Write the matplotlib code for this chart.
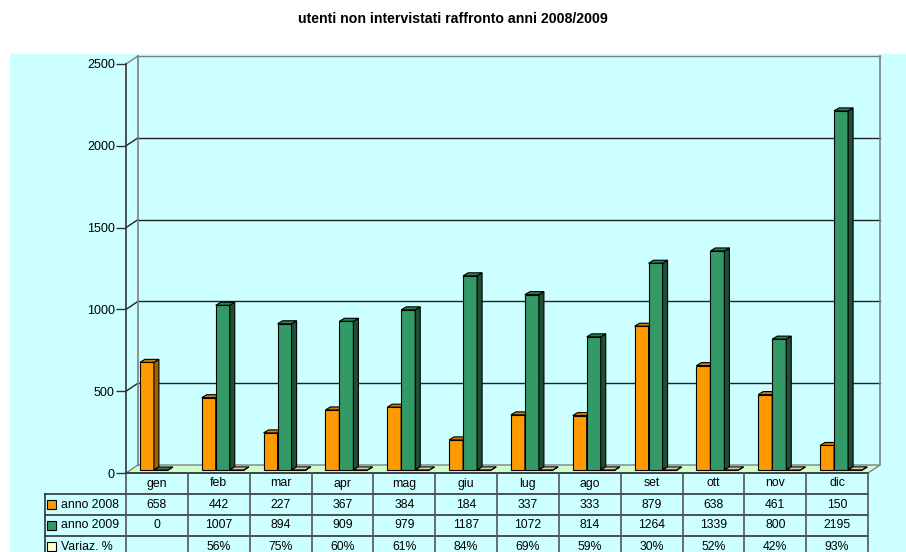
import matplotlib.pyplot as plt
from matplotlib.patches import Polygon, Rectangle
from matplotlib import transforms

plt.rcParams['font.family'] = ['Liberation Sans', 'DejaVu Sans']

# data
mesi = ['gen', 'feb', 'mar', 'apr', 'mag', 'giu', 'lug', 'ago', 'set', 'ott', 'nov', 'dic']
anno_2008 = [658, 442, 227, 367, 384, 184, 337, 333, 879, 638, 461, 150]
anno_2009 = [0, 1007, 894, 909, 979, 1187, 1072, 814, 1264, 1339, 800, 2195]
variaz = [None, 56, 75, 60, 61, 84, 69, 59, 30, 52, 42, 93]  # percent
serie_nomi = ['anno 2008', 'anno 2009', 'Variaz. %']
y_ticks = [0, 500, 1000, 1500, 2000, 2500]

W, H = 906, 552
fig = plt.figure(figsize=(W / 100, H / 100), dpi=100)
fig.patch.set_facecolor('white')
fig.add_artist(Rectangle((10 / W, 0), (W - 10) / W, (H - 54) / H,
                         transform=fig.transFigure, color='#CCFFFF', zorder=0))

# front plane of the plot in pixels
x0px, x1px, y0px, y1px = 126, 868, 473, 64
ax = fig.add_axes([x0px / W, (H - y0px) / H, (x1px - x0px) / W, (y0px - y1px) / H])
ax.set_facecolor('none')
n = len(mesi)
ax.set_xlim(0, n)
ax.set_ylim(0, 2500)
PX = n / (x1px - x0px)        # data units per pixel (x)
PY = 2500 / (y0px - y1px)     # data units per pixel (y)

# depth of the 3D box
DX, DY = 12 * PX, 8 * PY
for s in ['top', 'right', 'bottom']:
    ax.spines[s].set_visible(False)
ax.spines['left'].set_color('#333333')
ax.spines['left'].set_linewidth(1.2)
ax.set_xticks([])
ax.set_yticks(y_ticks)
ax.tick_params(axis='y', length=7, width=1, color='#333333', labelsize=9, pad=1)

# floor
ax.add_patch(Polygon([(0, 0), (n, 0), (n + DX, DY), (DX, DY)], closed=True,
                     facecolor='#CCFFCC', edgecolor='#808080', lw=1, clip_on=False, zorder=1))
# walls and gridlines
for v in y_ticks[1:]:
    c = '#808080' if v == y_ticks[-1] else '#222222'
    ax.plot([0, DX], [v, v + DY], color=c, lw=1, clip_on=False, zorder=1)
    ax.plot([DX, n + DX], [v + DY, v + DY], color=c, lw=1, clip_on=False, zorder=1)
for xx in [DX, n + DX]:
    ax.plot([xx, xx], [DY, 2500 + DY], color='#808080', lw=1.2, clip_on=False, zorder=1)

# bars
w = 14 * PX
bx, by = 4 * PX, 3 * PY
ddx, ddy = 5 * PX, 3 * PY
front = ['#FF9900', '#339966', '#FFFFCC']
side = ['#A36200', '#1F4F37', '#A3A382']
top = ['#CC7A00', '#2A7F55', '#D6CFA5']
serie = [anno_2008, anno_2009, [None if p is None else p / 100 for p in variaz]]

for j in range(n):
    for i, vals in enumerate(serie):
        v = vals[j]
        if v is None:
            continue
        x = j + 0.5 - 1.5 * w + i * w + bx
        ax.bar(x, v, width=w, bottom=by, align='edge', color=front[i],
               edgecolor='black', lw=0.8, zorder=3 + j * 3 + i)
        ax.add_patch(Polygon([(x + w, by), (x + w + ddx, by + ddy),
                              (x + w + ddx, by + v + ddy), (x + w, by + v)],
                             closed=True, facecolor=side[i], edgecolor='black',
                             lw=0.8, zorder=3 + j * 3 + i, clip_on=False))
        ax.add_patch(Polygon([(x, by + v), (x + ddx, by + v + ddy),
                              (x + w + ddx, by + v + ddy), (x + w, by + v)],
                             closed=True, facecolor=top[i], edgecolor='black',
                             lw=0.8, zorder=3 + j * 3 + i, clip_on=False))

# data table below the plot
tr = transforms.blended_transform_factory(ax.transData, ax.transAxes)
def ya(ypx):
    return (y0px - ypx) / (y0px - y1px)

rows = [473, 494, 515, 536, 557]
xl = (45 - x0px) * PX
lc = '#333333'
# horizontal lines
ax.plot([0, n], [ya(rows[0])] * 2, color=lc, lw=1.2, transform=tr, clip_on=False)
for r in rows[1:4]:
    ax.plot([xl, n], [ya(r)] * 2, color=lc, lw=1.2, transform=tr, clip_on=False)
# vertical lines
for k in range(n + 1):
    ax.plot([k, k], [ya(rows[0]), ya(rows[4])], color='#555555', lw=1.2,
            transform=tr, clip_on=False)
ax.plot([xl, xl], [ya(rows[1]), ya(rows[4])], color=lc, lw=1.2,
        transform=tr, clip_on=False)

for j, m in enumerate(mesi):
    ax.text(j + 0.5, ya((rows[0] + rows[1]) / 2), m, transform=tr,
            ha='center', va='center', fontsize=8.8)
testi = [[str(v) for v in anno_2008], [str(v) for v in anno_2009],
         ['' if p is None else f'{p}%' for p in variaz]]
for i in range(3):
    yc = ya((rows[i + 1] + rows[i + 2]) / 2)
    for j in range(n):
        ax.text(j + 0.5, yc, testi[i][j], transform=tr, ha='center',
                va='center', fontsize=8.8)
    # legend key
    ax.add_patch(Rectangle((xl + 1.5 * PX, yc - 4.5 / 409), 9 * PX, 9 / 409,
                           transform=tr, facecolor=front[i], edgecolor='black',
                           lw=0.8, clip_on=False))
    ax.text(xl + 16 * PX, yc, serie_nomi[i], transform=tr, ha='left',
            va='center', fontsize=8.8)

fig.text(453 / W, 1 - 19 / H, 'utenti non intervistati raffronto anni 2008/2009',
         ha='center', va='center', fontsize=10.2, fontweight='bold')

fig.savefig('out.png', dpi=100)
